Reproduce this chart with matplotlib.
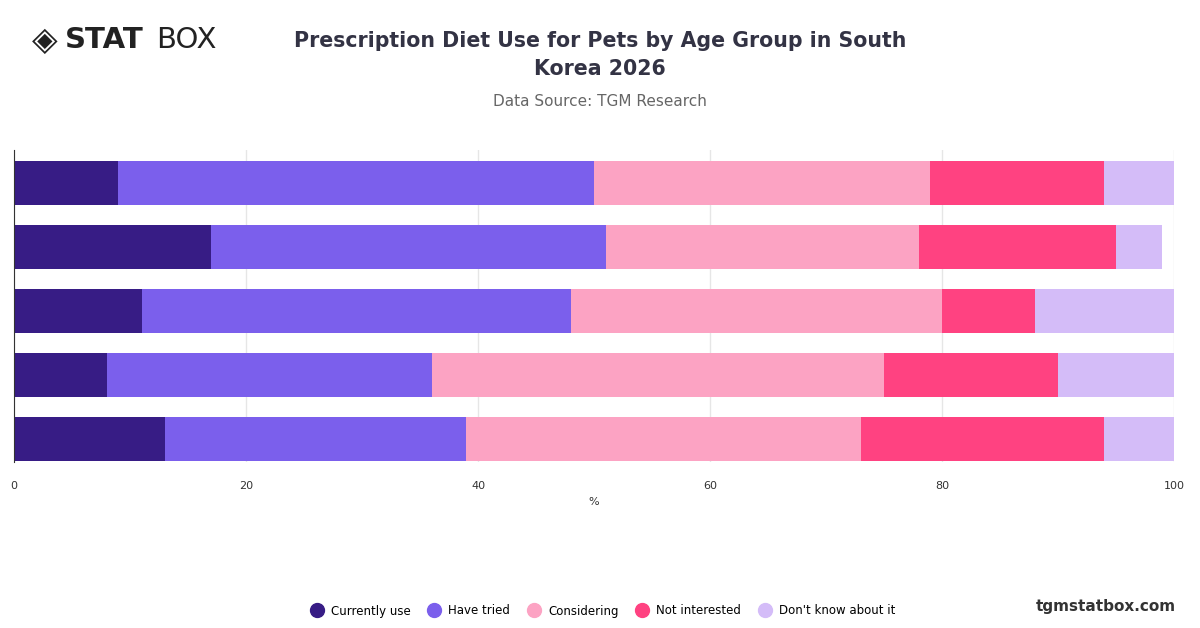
import matplotlib.pyplot as plt
import numpy as np

categories = ["A", "B", "C", "D", "E"]
series_names = ["Currently use", "Have tried", "Considering", "Not interested", "Don't know about it"]
currently = [9, 17, 11, 8, 13]
tried = [41, 34, 37, 28, 26]
considering = [29, 27, 32, 39, 34]
not_interested = [15, 17, 8, 15, 21]
dont_know = [6, 4, 12, 10, 6]
colors = ["#371c85", "#7b5fec", "#fca3c3", "#ff4281", "#d4bcf8"]

fig = plt.figure(figsize=(12, 6.28), dpi=100)
ax = fig.add_axes([14/1200, 1-462/628, 1160/1200, 312/628])
data = [currently, tried, considering, not_interested, dont_know]
y = np.arange(len(categories))
left = np.zeros(len(categories))
for vals, c, n in zip(data, colors, series_names):
    ax.barh(y, vals, left=left, color=c, height=0.69, label=n)
    left += np.array(vals)
ax.set_ylim(4.36, -0.516)
ax.set_xlim(0, 100)
ax.set_xticks([0, 20, 40, 60, 80, 100])
ax.set_yticks([])
ax.grid(axis='x', color='#e6e6e6', lw=1)
ax.set_axisbelow(True)
for s in ['top', 'right', 'bottom']:
    ax.spines[s].set_visible(False)
ax.spines['left'].set_color('#333333')
ax.tick_params(axis='x', length=0, labelsize=8, colors='#333333', pad=14)
ax.set_xlabel('%', fontsize=8, color='#333333', labelpad=4)

fig.text(0.5, 1-55/628, "Prescription Diet Use for Pets by Age Group in South\nKorea 2026",
         ha='center', va='center', fontsize=14.8, fontweight='bold', color='#333344', linespacing=1.55)
fig.text(0.5, 1-101/628, "Data Source: TGM Research", ha='center', va='center', fontsize=11, color='#666666')
fig.text(0.054, 1-40/628, "STAT", ha='left', va='center', fontsize=21, fontweight='bold', color='#222222')
fig.text(0.130, 1-40/628, "BOX", ha='left', va='center', fontsize=21, color='#222222')
fig.text(0.037, 1-40/628, "◈", ha='center', va='center', fontsize=24, color='#222222', family='DejaVu Sans')
fig.text(0.98, 1-606/628, "tgmstatbox.com", ha='right', va='center', fontsize=11, fontweight='bold', color='#333333')

handles = [plt.Line2D([], [], marker='o', ls='', markersize=10, color=c) for c in colors]
fig.legend(handles, series_names, loc='center', bbox_to_anchor=(0.5, 1-611/628), ncol=5,
           frameon=False, fontsize=8.5, handletextpad=0.2, columnspacing=1.0)
fig.savefig("out.png", dpi=100)
